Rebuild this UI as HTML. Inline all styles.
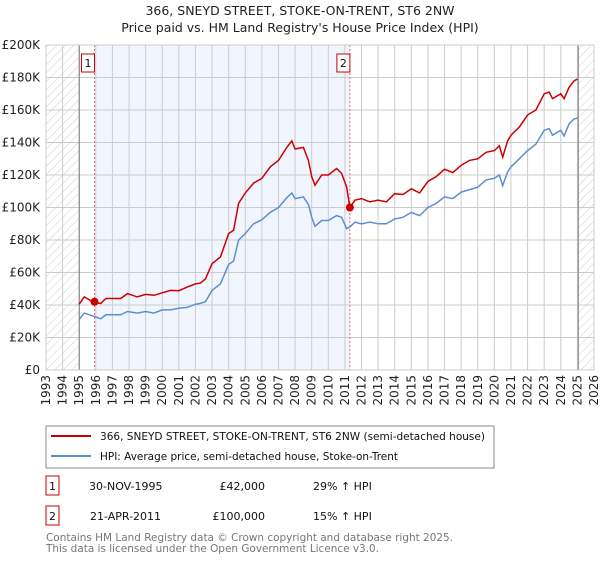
<!DOCTYPE html>
<html><head><meta charset="utf-8"><style>
body{margin:0;background:#fff;font-family:"Liberation Sans","DejaVu Sans",sans-serif;}
svg text{font-family:"DejaVu Sans","Liberation Sans",sans-serif;}
</style></head><body>
<svg id="chart" width="600" height="560" viewBox="0 0 600 560" xmlns="http://www.w3.org/2000/svg">
<defs><pattern id="hatch" patternUnits="userSpaceOnUse" width="6" height="6" patternTransform="rotate(45)"><line x1="0" y1="0" x2="0" y2="6" stroke="#cfcfcf" stroke-width="1"/></pattern></defs>
<text x="300" y="15" text-anchor="middle" font-size="12.5" fill="#222">366, SNEYD STREET, STOKE-ON-TRENT, ST6 2NW</text>
<text x="300" y="32" text-anchor="middle" font-size="12.5" fill="#222">Price paid vs. HM Land Registry's House Price Index (HPI)</text>
<g id="plot"></g>
<g>
<rect x="46" y="426" width="448" height="42" fill="#fff" stroke="#888"/>
<line x1="51" y1="436" x2="91" y2="436" stroke="#cc0000" stroke-width="2"/>
<text x="100" y="440" font-size="10.5" fill="#111" textLength="385" lengthAdjust="spacingAndGlyphs">366, SNEYD STREET, STOKE-ON-TRENT, ST6 2NW (semi-detached house)</text>
<line x1="51" y1="456" x2="91" y2="456" stroke="#5b8fd0" stroke-width="2"/>
<text x="100" y="460" font-size="10.5" fill="#111" textLength="298" lengthAdjust="spacingAndGlyphs">HPI: Average price, semi-detached house, Stoke-on-Trent</text>
</g>
<g font-size="11" fill="#111">
<rect x="46" y="476" width="13" height="19" fill="#fff" stroke="#cc0000"/><text x="52.5" y="490" text-anchor="middle">1</text>
<text x="89" y="490">30-NOV-1995</text><text x="265" y="490" text-anchor="end">£42,000</text><text x="313" y="490">29% ↑ HPI</text>
<rect x="46" y="506" width="13" height="19" fill="#fff" stroke="#cc0000"/><text x="52.5" y="520" text-anchor="middle">2</text>
<text x="90" y="520">21-APR-2011</text><text x="265" y="520" text-anchor="end">£100,000</text><text x="313" y="520">15% ↑ HPI</text>
</g>
<text x="46" y="541" font-size="10.5" fill="#777" textLength="407" lengthAdjust="spacingAndGlyphs">Contains HM Land Registry data © Crown copyright and database right 2025.</text>
<text x="46" y="552" font-size="10.5" fill="#777" textLength="333" lengthAdjust="spacingAndGlyphs">This data is licensed under the Open Government Licence v3.0.</text>
</svg>
<script>
const years=[1995.0,1995.3,1995.9,1996.3,1996.6,1997.5,1997.9,1998.5,1999.0,1999.5,2000.0,2000.5,2001.0,2001.5,2002.0,2002.3,2002.6,2003.0,2003.5,2004.0,2004.3,2004.6,2005.0,2005.5,2006.0,2006.5,2007.0,2007.5,2007.8,2008.0,2008.5,2008.8,2009.0,2009.2,2009.6,2010.0,2010.5,2010.8,2011.1,2011.3,2011.6,2012.0,2012.5,2013.0,2013.5,2014.0,2014.5,2015.0,2015.5,2016.0,2016.5,2017.0,2017.5,2018.0,2018.5,2019.0,2019.5,2020.0,2020.3,2020.5,2020.8,2021.0,2021.5,2022.0,2022.5,2023.0,2023.3,2023.5,2024.0,2024.2,2024.5,2024.8,2025.0];
const hpiValues=[31,35,33,31.5,34,34,36,35,36,35,37,37,38,38.5,40.5,41,42,49,53,65,67,80,84,90,92.5,97,100,106,109,105.5,106.5,102,94,88.5,92,92,95,94,87,88,91,90,91,90,90,93,94,97,95,100,102.5,106.5,105.5,109.5,111,112.5,117,118,120,113.5,122,125,130,135,139,147.5,148.5,144.5,147.5,144,151.5,154.5,155];
const priceValues=[40.5,45,41.5,41,44,44,47,45,46.5,46,47.5,49,48.8,51,53,53.5,56,65.5,69.5,84,86,102.5,109,115,118,125,129,137,141,136,137,129,119,113.7,120,120,124,121,112.7,100,104.5,105.5,103.5,104.5,103.5,108.5,108,111.5,109,116,119,123.5,121.5,126,129,130,134,135,138,131,141,144.5,149.5,157,160,170,171,167,170,167,174,178,179];
const saleYears=[1995.92,2011.3];
const salePrices=[42,100];
const saleLabels=["1","2"];
const yTicks=[0,20,40,60,80,100,120,140,160,180,200];
const yTickLabels=["£0","£20K","£40K","£60K","£80K","£100K","£120K","£140K","£160K","£180K","£200K"];
const xTicks=[1993,1994,1995,1996,1997,1998,1999,2000,2001,2002,2003,2004,2005,2006,2007,2008,2009,2010,2011,2012,2013,2014,2015,2016,2017,2018,2019,2020,2021,2022,2023,2024,2025,2026];

const L=46,R=594,T=45,B=370,X0=1993,X1=2026,Ymax=200;
const xs=v=>L+(v-X0)/(X1-X0)*(R-L);
const ys=v=>B-v/Ymax*(B-T);
const NS="http://www.w3.org/2000/svg";
const g=document.getElementById('plot');
function mk(tag,attrs,parent){const e=document.createElementNS(NS,tag);for(const k in attrs)e.setAttribute(k,attrs[k]);(parent||g).appendChild(e);return e;}
let r;
r=mk('rect',{x:L,y:T,width:R-L,height:B-T,fill:'#fff'});


r=mk('rect',{x:xs(saleYears[0]),y:T,width:xs(saleYears[1])-xs(saleYears[0]),height:B-T,fill:'#eef3fc',opacity:0.8});


r=mk('rect',{x:L,y:T,width:xs(1995)-L,height:B-T,fill:'url(#hatch)'});


r=mk('rect',{x:xs(2025.05),y:T,width:R-xs(2025.05),height:B-T,fill:'url(#hatch)'});


xTicks.forEach((t,i)=>{
  const l=mk('line',{x1:xs(t),x2:xs(t),y1:T,y2:B,stroke:'#cccccc','stroke-width':1});
  
  
  const tx=mk('text',{x:0,y:0,'font-size':12,fill:'#222','text-anchor':'end',transform:`translate(${xs(t)+4},${B+5}) rotate(-90)`});
  tx.textContent=t;
  
  
});
yTicks.forEach((t,i)=>{
  const l=mk('line',{x1:L,x2:R,y1:ys(t),y2:ys(t),stroke:'#cccccc','stroke-width':1});
  
  
  const tx=mk('text',{x:L-6,y:ys(t)+4,'font-size':12,fill:'#222','text-anchor':'end'});
  tx.textContent=yTickLabels[i];
  
  
});
[1995,2025.05].forEach(t=>{
  const l=mk('line',{x1:xs(t),x2:xs(t),y1:T,y2:B,stroke:'#777','stroke-width':1});
  
  
});
saleYears.forEach((t,i)=>{
  const l=mk('line',{x1:xs(t),x2:xs(t),y1:T,y2:B,stroke:'#ee6666','stroke-width':1,'stroke-dasharray':'2,2'});
  
  
});
function path(vals){return years.map((y,i)=>(i?'L':'M')+xs(y).toFixed(1)+','+ys(vals[i]).toFixed(1)).join('');}
let p=mk('path',{d:path(hpiValues),fill:'none',stroke:'#5b8fd0','stroke-width':1.5});


p=mk('path',{d:path(priceValues),fill:'none',stroke:'#cc0000','stroke-width':1.5});


saleYears.forEach((t,i)=>{
  const c=mk('circle',{cx:xs(t),cy:ys(salePrices[i]),r:4,fill:'#cc0000'});
  
  
  const bx=mk('rect',{x:xs(t)-13,y:T+9,width:13,height:18,fill:'#fff',stroke:'#cc0000'});
  
  
  const tx=mk('text',{x:xs(t)-6.5,y:T+22,'font-size':11,fill:'#111','text-anchor':'middle'});
  tx.textContent=saleLabels[i];
  
  
});
r=mk('rect',{x:L,y:T,width:R-L,height:B-T,fill:'none',stroke:'#cccccc'});


</script>
</body></html>
